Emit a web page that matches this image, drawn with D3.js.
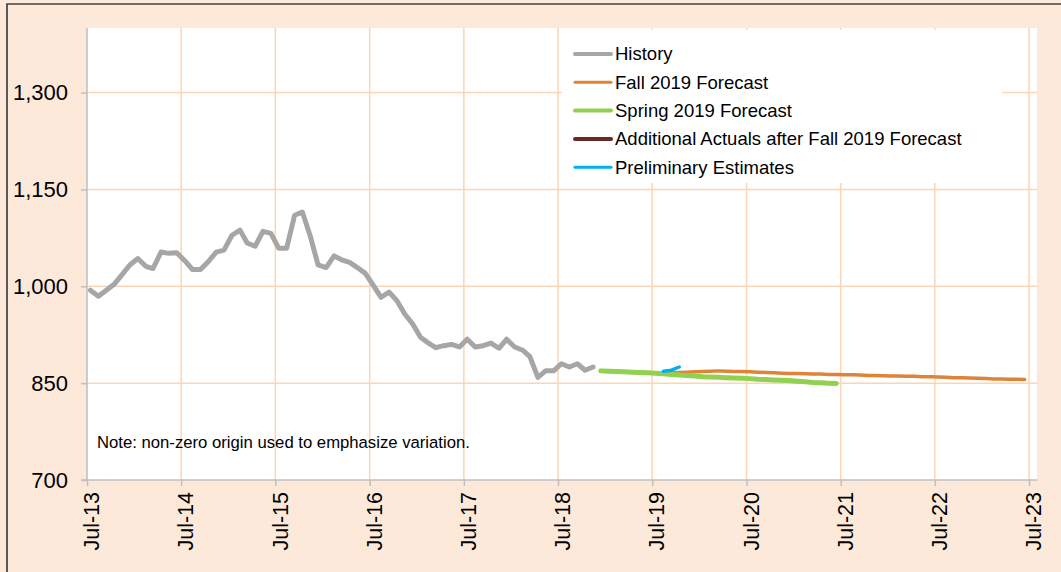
<!DOCTYPE html>
<html>
<head>
<meta charset="utf-8">
<script src="https://cdn.jsdelivr.net/npm/d3@7"></script>
<style>
  body { margin: 0; background: #fde9d9; }
  svg { display: block; font-family: Arial, "Liberation Sans", sans-serif; }
</style>
</head>
<body>
<svg id="chart"></svg>
<script>
// monthly values, first month of each series given by its start
const historyStart = [2013, 6];   // Jul-13
const historyValues = [994, 984.5, 994, 1003, 1018, 1033, 1043, 1031, 1027.5, 1053,
  1051, 1052, 1040, 1026, 1026, 1038, 1053, 1056, 1079, 1087,
  1067, 1062, 1085, 1082, 1059, 1059, 1110, 1115, 1077, 1033,
  1029, 1047, 1041, 1037, 1029, 1020, 1002, 983, 991, 978,
  957, 942, 921, 912, 905, 908, 910, 906, 918, 906,
  908, 912, 904, 918, 906, 901, 891, 859, 869, 869,
  880, 875, 880, 870, 875];

const fallStart = [2019, 8];      // Sep-19
const fallValues = [866, 866.5, 867, 867.5, 868, 868.5, 869, 868.5, 868, 868,
  867.5, 867, 866.5, 866, 865.5, 865, 865, 864.5, 864, 864,
  863.5, 863.5, 863, 863, 862.5, 862, 862, 861.5, 861, 861,
  860.5, 860.5, 860, 860, 859.5, 859, 858.5, 858.5, 858, 857.5,
  857, 856.5, 856.5, 856, 856, 855.5];

const springStart = [2018, 11];   // Dec-18
const springValues = [869, 868.5, 868, 867.5, 867, 866.5, 866, 865.5, 864.5, 863.5,
  862.5, 862, 861, 860, 859.5, 859, 858.5, 858, 857.5, 857,
  856, 855.5, 855, 854.5, 854, 853, 852, 851, 850.5, 850, 849.5];

const additionalStart = [2019, 8];
const additionalValues = [];

const prelimStart = [2019, 7];    // Aug-19
const prelimValues = [868.5, 870, 875];

const yTicks = [700, 850, 1000, 1150, 1300];
const xTickYears = [2013, 2014, 2015, 2016, 2017, 2018, 2019, 2020, 2021, 2022, 2023];
const note = 'Note: non-zero origin used to emphasize variation.';

const series = [
  { name: 'History', start: historyStart, values: historyValues, color: '#a6a6a6', width: 5, legendWidth: 4 },
  { name: 'Fall 2019 Forecast', start: fallStart, values: fallValues, color: '#dd8439', width: 3.5, legendWidth: 3 },
  { name: 'Spring 2019 Forecast', start: springStart, values: springValues, color: '#92d050', width: 5, legendWidth: 4 },
  { name: 'Additional Actuals after Fall 2019 Forecast', start: additionalStart, values: additionalValues, color: '#672a2a', width: 4, legendWidth: 4 },
  { name: 'Preliminary Estimates', start: prelimStart, values: prelimValues, color: '#00b0f0', width: 3.5, legendWidth: 3 }
];

const width = 1061;
const height = 572;
const plot = { left: 87, top: 28, right: 1037, bottom: 480 };

const svg = d3.select('#chart')
  .attr('width', width)
  .attr('height', height);

svg.append('rect')
  .attr('width', width)
  .attr('height', height)
  .attr('fill', '#fde9d9');

svg.append('path')
  .attr('d', `M7,${height}V4H${width}`)
  .attr('fill', 'none')
  .attr('stroke', '#404040')
  .attr('stroke-width', 1.7);

const x = d3.scaleTime()
  .domain([new Date(2013, 6, 1), new Date(2023, 7, 1)])
  .range([plot.left, plot.right]);

const y = d3.scaleLinear()
  .domain([700, 1400])
  .range([plot.bottom, plot.top]);

svg.append('rect')
  .attr('x', plot.left)
  .attr('y', plot.top)
  .attr('width', plot.right - plot.left)
  .attr('height', plot.bottom - plot.top)
  .attr('fill', '#ffffff');

const gridColor = '#fbd5b5';
const xTicks = xTickYears.map((yr) => new Date(yr, 6, 1));

// gridlines
svg.append('g')
  .selectAll('line')
  .data(yTicks.filter((v) => v > 700))
  .join('line')
  .attr('x1', plot.left)
  .attr('x2', plot.right)
  .attr('y1', (d) => y(d))
  .attr('y2', (d) => y(d))
  .attr('stroke', gridColor)
  .attr('stroke-width', 1.5);

svg.append('g')
  .selectAll('line')
  .data(xTicks.slice(1))
  .join('line')
  .attr('x1', (d) => x(d))
  .attr('x2', (d) => x(d))
  .attr('y1', plot.top)
  .attr('y2', plot.bottom)
  .attr('stroke', gridColor)
  .attr('stroke-width', 1.5);

// axes
const yAxis = d3.axisLeft(y)
  .tickValues(yTicks)
  .tickSize(6)
  .tickPadding(13)
  .tickFormat(d3.format(','));

const gy = svg.append('g')
  .attr('transform', `translate(${plot.left},0)`)
  .call(yAxis);
gy.select('.domain').attr('d', `M-6,${plot.bottom}H0V${plot.top}`);

const xAxis = d3.axisBottom(x)
  .tickValues(xTicks)
  .tickSize(6)
  .tickFormat(d3.timeFormat('%b-%y'));

const gx = svg.append('g')
  .attr('transform', `translate(0,${plot.bottom})`)
  .call(xAxis);
gx.select('.domain').attr('d', `M${plot.left},0H${plot.right}`);

svg.selectAll('.domain, .tick line')
  .attr('stroke', '#bfbfbf')
  .attr('stroke-width', 1.5);

gy.selectAll('.tick text')
  .attr('font-size', 22)
  .attr('fill', '#000')
  .attr('font-family', 'Arial, "Liberation Sans", sans-serif');

gx.selectAll('.tick text')
  .attr('font-size', 21.5)
  .attr('fill', '#000')
  .attr('font-family', 'Arial, "Liberation Sans", sans-serif')
  .attr('text-anchor', 'end')
  .attr('transform', 'translate(0,12) rotate(-90)')
  .attr('x', 0)
  .attr('y', 0)
  .attr('dy', '0.55em');

// series lines
const monthDate = (start, i) => new Date(start[0], start[1] + i, 14);

const line = d3.line()
  .x((d) => x(d.date))
  .y((d) => y(d.value));

series.forEach((s) => {
  if (s.values.length === 0) return;
  const pts = s.values.map((v, i) => ({ date: monthDate(s.start, i), value: v }));
  svg.append('path')
    .datum(pts)
    .attr('d', line)
    .attr('fill', 'none')
    .attr('stroke', s.color)
    .attr('stroke-width', s.width)
    .attr('stroke-linejoin', 'round')
    .attr('stroke-linecap', 'round');
});

// note
svg.append('text')
  .attr('x', 97)
  .attr('y', 448)
  .attr('font-size', 16.7)
  .attr('fill', '#000')
  .text(note);

// legend
const legend = svg.append('g');
legend.append('rect')
  .attr('x', 562)
  .attr('y', 30)
  .attr('width', 440)
  .attr('height', 153)
  .attr('fill', '#ffffff');

const rows = legend.selectAll('g.row')
  .data(series)
  .join('g')
  .attr('class', 'row')
  .attr('transform', (d, i) => `translate(0,${54 + i * 28.3})`);

rows.append('line')
  .attr('x1', 575)
  .attr('x2', 611)
  .attr('stroke', (d) => d.color)
  .attr('stroke-width', (d) => d.legendWidth)
  .attr('stroke-linecap', 'round');

rows.append('text')
  .attr('x', 615)
  .attr('dy', '0.35em')
  .attr('font-size', 18.5)
  .attr('fill', '#000')
  .text((d) => d.name);
</script>
</body>
</html>
